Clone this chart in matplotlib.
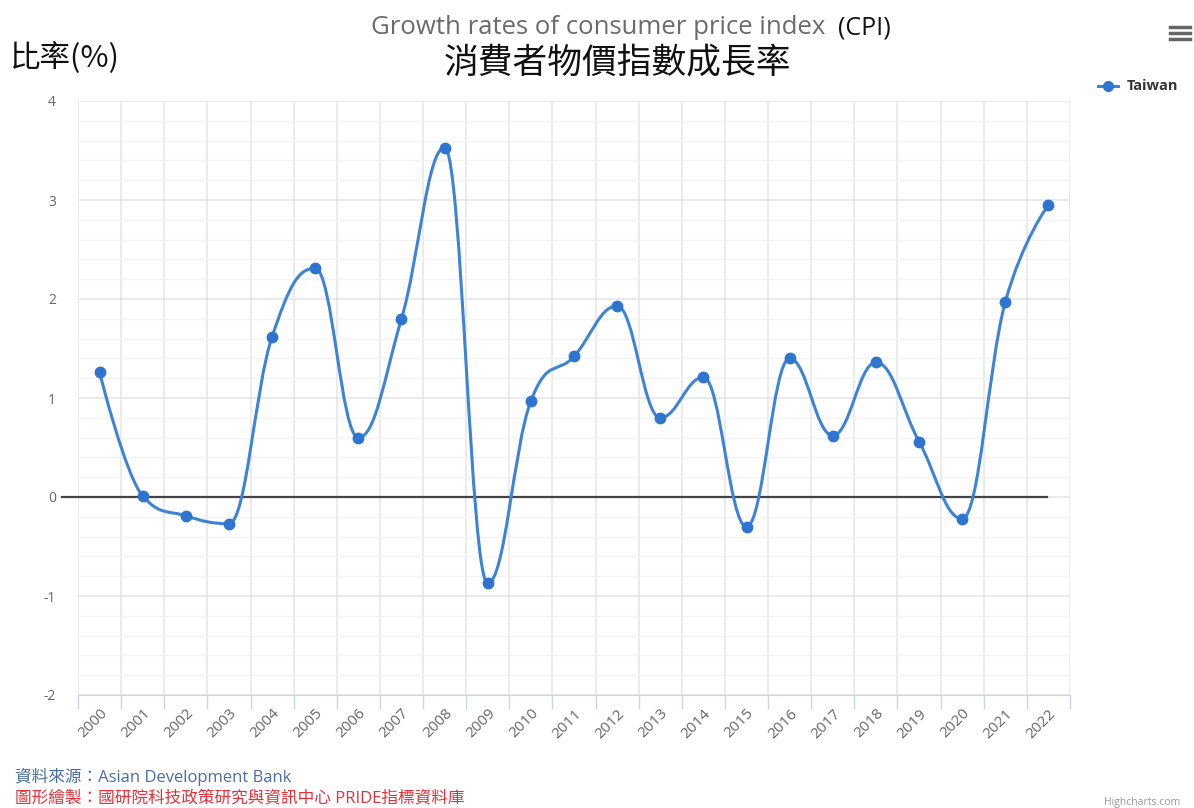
import matplotlib
matplotlib.use("Agg")
import matplotlib.pyplot as plt
from matplotlib.path import Path
from matplotlib.patches import PathPatch
from matplotlib.lines import Line2D
import numpy as np

plt.rcParams['font.family'] = ['Open Sans', 'Noto Sans CJK TC', 'DejaVu Sans']

years = [str(y) for y in range(2000, 2023)]
cpi = [1.26, 0.01, -0.19, -0.27, 1.62, 2.31, 0.60, 1.80, 3.53, -0.87, 0.97,
       1.42, 1.93, 0.80, 1.21, -0.30, 1.40, 0.62, 1.36, 0.56, -0.22, 1.97, 2.95]
y_ticks = [-2, -1, 0, 1, 2, 3, 4]
series_name = "Taiwan"
title_en = "Growth rates of consumer price index"
title_cpi = "(CPI)"
title_zh = "消費者物價指數成長率"
y_label = "比率(%)"
source_line = "資料來源：Asian Development Bank"
maker_line = "圖形繪製：國研院科技政策研究與資訊中心 PRIDE指標資料庫"

LINE = '#3d83d6'
MARK = '#2f74cf'

W, H = 1194, 808
fig = plt.figure(figsize=(W / 100, H / 100), dpi=100)
L, R, T, B = 78, 1070, 101, 695
ax = fig.add_axes([L / W, 1 - B / H, (R - L) / W, (B - T) / H])

n = len(years)
x = np.arange(n, dtype=float)
y = np.array(cpi, dtype=float)

# Highcharts-style spline control points
def spline_path(xs, ys, smoothing=1.5):
    denom = smoothing + 1
    lc = [None] * len(xs)
    rc = [None] * len(xs)
    for i in range(1, len(xs) - 1):
        px, py = xs[i], ys[i]
        lx, ly = xs[i - 1], ys[i - 1]
        nx, ny = xs[i + 1], ys[i + 1]
        lcx = (smoothing * px + lx) / denom
        lcy = (smoothing * py + ly) / denom
        rcx = (smoothing * px + nx) / denom
        rcy = (smoothing * py + ny) / denom
        if rcx != lcx:
            corr = ((rcy - lcy) * (rcx - px)) / (rcx - lcx) + py - rcy
            lcy += corr
            rcy += corr
        if lcy > ly and lcy > py:
            lcy = max(ly, py)
            rcy = 2 * py - lcy
        elif lcy < ly and lcy < py:
            lcy = min(ly, py)
            rcy = 2 * py - lcy
        if rcy > ny and rcy > py:
            rcy = max(ny, py)
            lcy = 2 * py - rcy
        elif rcy < ny and rcy < py:
            rcy = min(ny, py)
            lcy = 2 * py - rcy
        lc[i] = (lcx, lcy)
        rc[i] = (rcx, rcy)
    verts = [(xs[0], ys[0])]
    codes = [Path.MOVETO]
    for i in range(1, len(xs)):
        c1 = rc[i - 1] if rc[i - 1] is not None else (xs[i - 1], ys[i - 1])
        c2 = lc[i] if lc[i] is not None else (xs[i], ys[i])
        verts += [c1, c2, (xs[i], ys[i])]
        codes += [Path.CURVE4] * 3
    return Path(verts, codes)

ax.set_xlim(-0.5, n - 0.5)
ax.set_ylim(y_ticks[0], y_ticks[-1])

# grid
ax.set_yticks(y_ticks)
ax.set_yticks(np.arange(y_ticks[0], y_ticks[-1] + 0.001, 0.2), minor=True)
ax.set_xticks(x)
ax.set_xticklabels(years, rotation=45, ha='right', va='top', rotation_mode='anchor',
                   color='#666666', fontsize=11)
ax.set_xticks(np.arange(-0.5, n, 1.0), minor=True)
ax.grid(which='major', axis='y', color='#e6e6e6', lw=1.2, zorder=0)
ax.grid(which='minor', axis='y', color='#f3f3f3', lw=1.0, zorder=0)
ax.grid(which='minor', axis='x', color='#e8e8e8', lw=1.2, zorder=0)
ax.tick_params(axis='x', which='major', length=0, pad=8)
ax.tick_params(axis='x', which='minor', length=10, color='#ccd6eb', width=1)
ax.tick_params(axis='y', which='both', length=0, pad=16)
ax.set_yticklabels([str(v) for v in y_ticks], color='#666666', fontsize=10)
for s in ['top', 'right', 'left']:
    ax.spines[s].set_visible(False)
ax.spines['bottom'].set_color('#ccd6eb')

# zero line
ax.axhline(0, xmin=-0.016, xmax=0.977, color='#444444', lw=1.6, zorder=2, clip_on=False)

path = spline_path(x, y)
ax.add_patch(PathPatch(path, facecolor='none', edgecolor=LINE, lw=2.2, zorder=3,
                       capstyle='round', joinstyle='round'))
ax.plot(x, y, 'o', color=MARK, ms=7.5, zorder=4, mec=MARK)

# titles
fig.text(598 / W, 1 - 28 / H, title_en, ha='center', va='center', fontsize=18.5, color='#6b6b6b')
fig.text(838 / W, 1 - 28 / H, title_cpi, ha='left', va='center', fontsize=18, color='#111111')
fig.text(617 / W, 1 - 63 / H, title_zh, ha='center', va='center', fontsize=25, color='#111111',
         family=['Noto Sans CJK TC', 'DejaVu Sans'], fontweight='light')
fig.text(10 / W, 1 - 58 / H, y_label, ha='left', va='center', fontsize=22, color='#111111',
         family=['Noto Sans CJK TC', 'DejaVu Sans'], fontweight='light')

# legend
fig.add_artist(Line2D([1098 / W, 1118 / W], [1 - 86 / H, 1 - 86 / H], color=LINE, lw=2.2,
                      marker=None, transform=fig.transFigure))
fig.add_artist(Line2D([1108 / W], [1 - 86 / H], color=MARK, marker='o', ms=7,
                      transform=fig.transFigure))
fig.text(1127 / W, 1 - 86 / H, series_name, ha='left', va='center', fontsize=10.5,
         color='#333333', fontweight='bold')

# menu icon
for dy in (-6, 0, 6):
    fig.add_artist(Line2D([1170 / W, 1190 / W], [1 - (33 + dy) / H] * 2, color='#666666',
                          lw=2.5, transform=fig.transFigure))

# source lines
fig.text(15 / W, 1 - 777 / H, source_line, ha='left', va='center', fontsize=12,
         color='#4a6ea0', family=['Open Sans', 'Noto Sans CJK TC'])
fig.text(15 / W, 1 - 799 / H, maker_line, ha='left', va='center', fontsize=12,
         color='#e8303a', family=['Open Sans', 'Noto Sans CJK TC'])
fig.text(1104 / W, 1 - 803 / H, "Highcharts.com", ha='left', va='center', fontsize=7.5,
         color='#999999')

fig.savefig('out.png', dpi=100)
